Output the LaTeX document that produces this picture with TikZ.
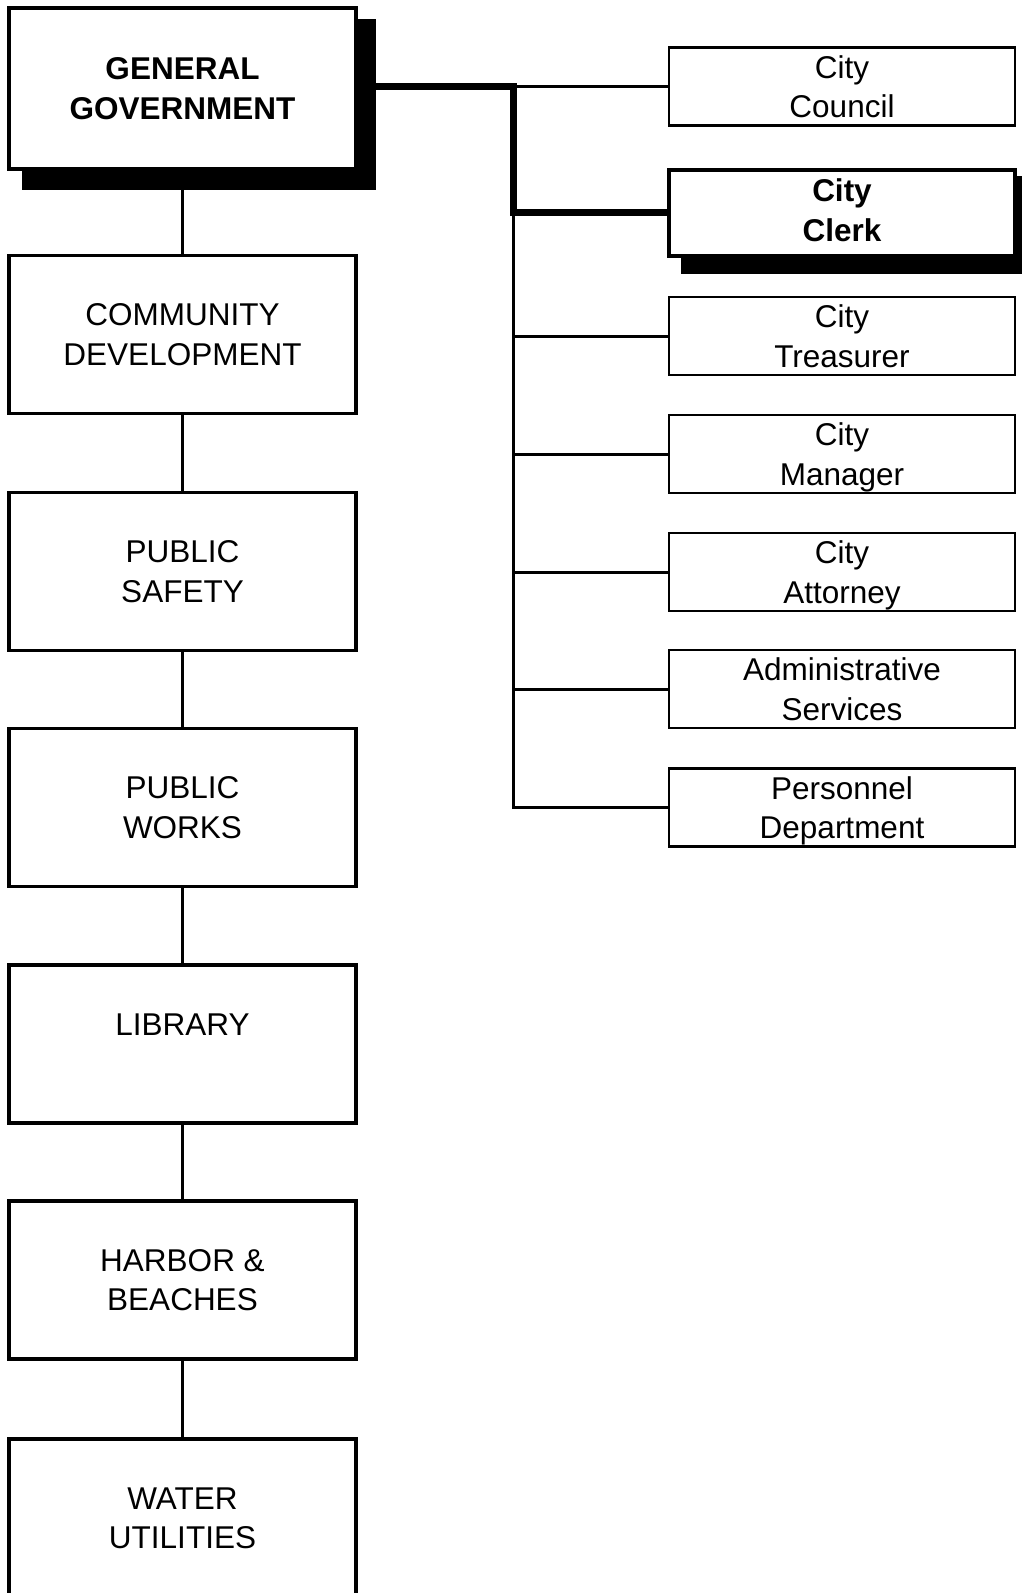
\documentclass[tikz,border=0pt]{standalone}
\usepackage{fontspec}
\setmainfont{Liberation Sans}
\usetikzlibrary{backgrounds}
\begin{document}
\begin{tikzpicture}[x=1pt,y=-1pt,
  boxtext/.style={align=center, font=\fontsize{31.5}{39.5}\selectfont, text depth=0pt},
  unit/.style={boxtext, draw, line width=3.5pt, fill=white, inner sep=0pt,
    minimum width=347pt, minimum height=158pt},
  office/.style={boxtext, draw, line width=2.3pt, fill=white, inner sep=0pt,
    minimum width=346pt, minimum height=78pt},
  headbox/.style={font=\fontsize{31.5}{39.5}\selectfont\bfseries},
  link/.style={line width=3pt},
  heavylink/.style={line width=7pt},
  shade/.style={fill=black}]

\useasboundingbox (0,0) rectangle (1021,1593);

% Departments (left column)
\node[unit, headbox, minimum height=161pt] (gg) at (182.5,88.5) {GENERAL\\GOVERNMENT};
\node[unit] (cd) at (182.5,334.5) {COMMUNITY\\DEVELOPMENT};
\node[unit] (ps) at (182.5,571.5) {PUBLIC\\SAFETY};
\node[unit] (pw) at (182.5,807.5) {PUBLIC\\WORKS};
\node[unit] (lib) at (182.5,1044) {LIBRARY\\\mbox{}};
\node[unit] (hb) at (182.5,1280) {HARBOR \&\\BEACHES};
\node[unit] (wu) at (182.5,1518) {WATER\\UTILITIES};

% Offices (right column)
\node[office] (council) at (842,86.5) {City\\Council};
\node[office, headbox, line width=4pt, minimum height=86pt, text depth=5pt] (clerk) at (842,212.5) {City\\Clerk};
\node[office] (treasurer) at (842,336) {City\\Treasurer};
\node[office] (manager) at (842,454) {City\\Manager};
\node[office] (attorney) at (842,572) {City\\Attorney};
\node[office] (admin) at (842,689) {Administrative\\Services};
\node[office] (personnel) at (842,807.5) {Personnel\\Department};

% Drop shadows
\begin{pgfonlayer}{background}
  \fill[white] (0,0) rectangle (1021,1593);
  \fill[shade] ([shift={(14.5,13)}]gg.north west) rectangle ([shift={(18.5,19)}]gg.south east);
  \fill[shade] ([shift={(14,8)}]clerk.north west) rectangle ([shift={(20,16)}]clerk.south east);
\end{pgfonlayer}

% Department chain
\draw[link] (gg.south) -- (cd.north);
\draw[link] (cd.south) -- (ps.north);
\draw[link] (ps.south) -- (pw.north);
\draw[link] (pw.south) -- (lib.north);
\draw[link] (lib.south) -- (hb.north);
\draw[link] (hb.south) -- (wu.north);

% Office tree
\coordinate (trunk) at (513.5,86.5);
\draw[link] (trunk) -- (council.west);
\foreach \o in {treasurer,manager,attorney,admin,personnel}
  \draw[link] (trunk |- clerk.west) |- (\o.west);
\draw[heavylink] (gg.east |- trunk) -- (trunk) -- (trunk |- clerk.west) -- (clerk.west);
\end{tikzpicture}
\end{document}
